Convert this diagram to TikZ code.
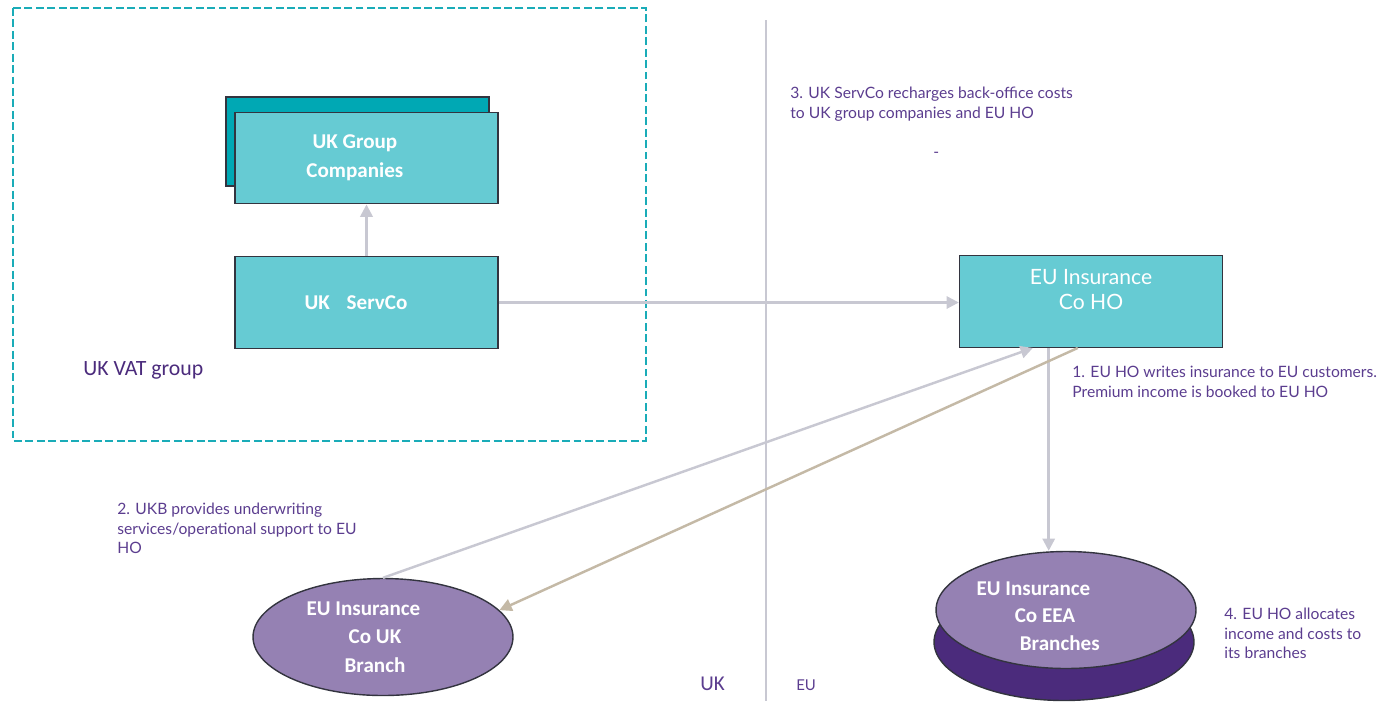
\documentclass[tikz,border=0pt]{standalone}
\usepackage{fontspec}
\setmainfont{Carlito}
\newfontfamily\notefont{Lato}
\usetikzlibrary{arrows.meta,shapes.geometric,calc}
\definecolor{boxfill}{HTML}{66CBD3}
\definecolor{boxdark}{HTML}{00A8B4}
\definecolor{boxline}{HTML}{33343F}
\definecolor{vatline}{HTML}{1AACB8}
\definecolor{ballfill}{HTML}{9581B3}
\definecolor{balldark}{HTML}{4B2B7C}
\definecolor{notetext}{HTML}{5B3D8F}
\definecolor{linkgrey}{HTML}{C8C8D2}
\definecolor{linktan}{HTML}{C4B9A6}
\begin{document}
\begin{tikzpicture}[x=0.02cm,y=-0.02cm,%
% common options for blocks:
block/.style = {draw=boxline, fill=boxfill, line width=0.8pt, align=center,
            minimum width=5.26cm, minimum height=1.83cm, inner sep=0,
            text=white, font=\bfseries\fontsize{12}{16.4}\selectfont},
% common options for the ellipses:
ball/.style = {ellipse, draw=boxline, fill=ballfill, line width=0.8pt,
            minimum width=5.2cm, minimum height=2.34cm, inner sep=0},
% texts inside the ellipses:
balltext/.style = {align=center, text=white, inner sep=0,
            font=\bfseries\fontsize{12}{16.2}\selectfont},
% the numbered notes:
note/.style = {anchor=north west, align=left, inner sep=0, text=notetext,
            font=\notefont\fontsize{8.9}{11}\selectfont},
% connectors:
link/.style = {draw=linkgrey, line width=1.4pt,
            -{Triangle[length=7pt,width=7pt]}}]
\useasboundingbox (0,0) rectangle (1378,701);
\draw[vatline, line width=1.1pt, dash pattern=on 4.5pt off 2pt] (13,8) rectangle (646,441);
\draw[linkgrey, line width=1.4pt] (766,20) -- (766,701);
\node[block, fill=boxdark, minimum height=1.78cm] (A0) at (357.5,141.5) {};
\node[block] (A1) at (366.5,158) {UK Group\hspace*{1.1em}\\Companies\hspace*{1.1em}};
\node[block] (A2) at (366.5,302.5) {UK\hspace{0.8em}ServCo\hspace*{1em}};
\node[anchor=base west, inner sep=0, text=balldark, font=\fontsize{12.4}{15}\selectfont] (A4) at (83,375) {UK VAT group};
\node[ball] (A3) at (383,637) {};
\node[balltext] (A3t) at (375,637) {EU Insurance\hspace*{1.1em}\\Co UK\\Branch};
\node[block, font=\notefont\fontsize{12}{14.2}\selectfont] (B1) at (1091,301.5) {EU Insurance\\Co HO\\\mbox{}};
\node[ball, fill=balldark] (B0) at (1064,642) {};
\node[ball] (B3) at (1066,610) {};
\node[balltext, font=\bfseries\fontsize{12}{15.5}\selectfont] (B3t) at (1045,616) {EU Insurance\hspace*{1.1em}\\Co EEA\hspace*{0.6em}\\\hspace*{1.4em}Branches};
\node[note] (N3) at (790,87) {3. UK ServCo recharges back-office costs\\to UK group companies and EU HO};
\node[note] (N0) at (933,152) {-};
\node[note] (N1) at (1072,366) {1. EU HO writes insurance to EU customers.\\Premium income is booked to EU HO};
\node[note] (N2) at (117,503) {2. UKB provides underwriting\\services/operational support to EU\\HO};
\node[note] (N4) at (1224,608) {4. EU HO allocates\\income and costs to\\its branches};
\node[anchor=base west, inner sep=0, text=notetext, font=\fontsize{12}{14}\selectfont] (C1) at (700,690) {UK};
\node[anchor=base west, inner sep=0, text=notetext, font=\notefont\fontsize{8.5}{10}\selectfont] (C2) at (796,690) {EU};
\coordinate (B1a) at ($(B1.south west)!0.28!(B1.south east)$);
\coordinate (B1b) at ($(B1.south west)!0.34!(B1.south east)$);
\coordinate (B1c) at ($(B1.south west)!0.45!(B1.south east)$);
\draw[link] (A2.north) -- (A1.south);
\draw[link] (A2.east) -- (A2.east -| B1.west);
\draw[link] (B1b) -- (B1b |- B3.north);
\draw[link] (A3.north) -- (B1a);
\draw[link, draw=linktan] (B1c) -- (A3.13);
\end{tikzpicture}
\end{document}
